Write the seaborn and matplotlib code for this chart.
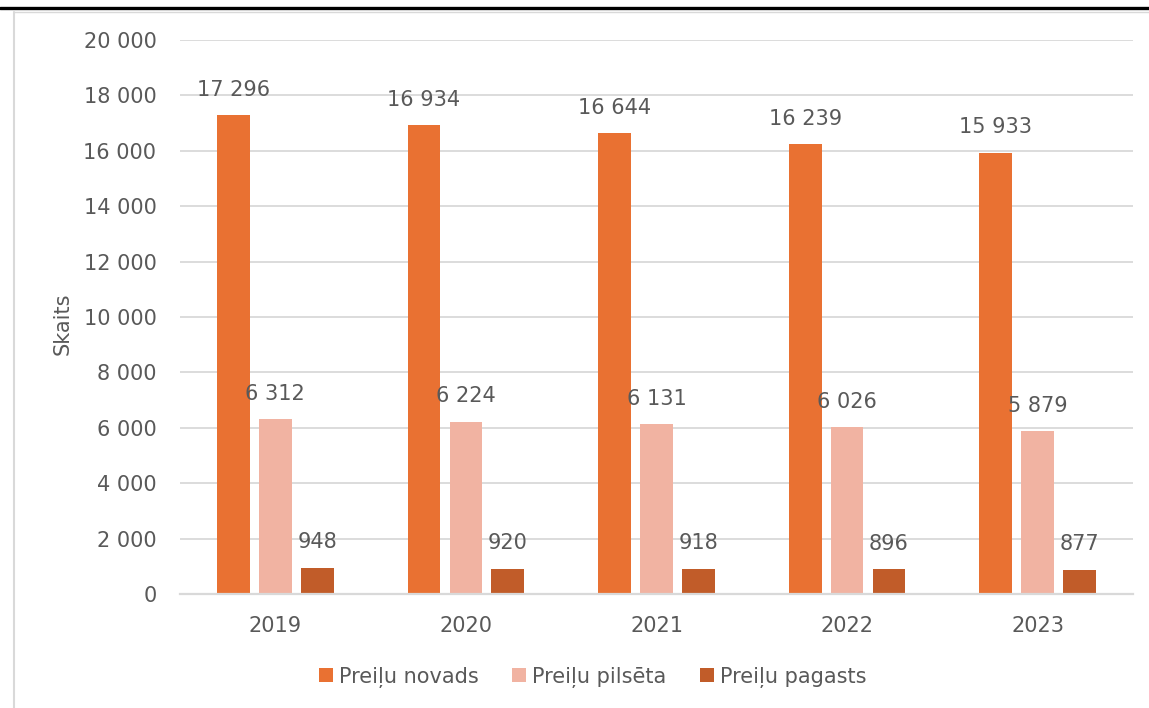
import matplotlib
matplotlib.use("Agg")
import matplotlib.pyplot as plt
from matplotlib.lines import Line2D
from matplotlib.ticker import FuncFormatter, MultipleLocator
import seaborn as sns
import pandas as pd

# Population data by year
years = ["2019", "2020", "2021", "2022", "2023"]
series_names = ["Preiļu novads", "Preiļu pilsēta", "Preiļu pagasts"]
novads = [17296, 16934, 16644, 16239, 15933]
pilseta = [6312, 6224, 6131, 6026, 5879]
pagasts = [948, 920, 918, 896, 877]
y_label = "Skaits"

colors = ["#E97132", "#F1B3A2", "#C15C29"]
text_color = "#595959"
grid_color = "#D9D9D9"
FS = 15

rows = []
for name, vals in zip(series_names, [novads, pilseta, pagasts]):
    for yr, v in zip(years, vals):
        rows.append({"Gads": yr, "Teritorija": name, "Skaits": v})
df = pd.DataFrame(rows)

sns.set_theme(style="white")
plt.rcParams["font.family"] = ["DejaVu Sans"]

W, H = 1149, 708
fig = plt.figure(figsize=(W / 100, H / 100), dpi=100)
ax = fig.add_axes([180 / W, 1 - 594 / H, (1133 - 180) / W, (594 - 40) / H])

sns.barplot(data=df, x="Gads", y="Skaits", hue="Teritorija", order=years,
            hue_order=series_names, palette=colors, width=0.66, gap=0.22,
            saturation=1, linewidth=0, ax=ax, legend=True)

fmt = lambda v: f"{int(round(v)):,}".replace(",", " ")
for cont in ax.containers:
    ax.bar_label(cont, labels=[fmt(b.get_height()) for b in cont],
                 padding=11, fontsize=FS, color=text_color)

ax.set_ylim(0, 20000)
ax.yaxis.set_major_locator(MultipleLocator(2000))
ax.yaxis.set_major_formatter(FuncFormatter(lambda v, p: fmt(v)))
ax.grid(axis="y", color=grid_color, linewidth=1.3)
ax.set_axisbelow(True)
for s in ["top", "right", "left"]:
    ax.spines[s].set_visible(False)
ax.spines["bottom"].set_color(grid_color)
ax.spines["bottom"].set_linewidth(1.6)
ax.tick_params(axis="y", length=0, pad=17, labelsize=FS, labelcolor=text_color)
ax.tick_params(axis="x", length=0, pad=16, labelsize=FS, labelcolor=text_color)
ax.set_xlabel("")
ax.set_ylabel(y_label, fontsize=FS, color=text_color)
ax.yaxis.set_label_coords((73 - 180) / (1133 - 180), (594 - 324) / (594 - 40))

handles, labels = ax.get_legend_handles_labels()
ax.legend_.remove()
fig.legend(handles, labels, loc="center", bbox_to_anchor=(592.5 / W, 1 - 677 / H),
           ncol=3, frameon=False, fontsize=FS, labelcolor=text_color,
           handlelength=0.67, handleheight=0.67, handletextpad=0.3,
           columnspacing=1.6)

# page rule and chart frame
fig.add_artist(Line2D([0, 1], [1 - 7.5 / H, 1 - 7.5 / H], color="black", linewidth=2.4,
                      transform=fig.transFigure))
fig.add_artist(Line2D([14 / W, 1], [1 - 11.5 / H, 1 - 11.5 / H], color=grid_color,
                      linewidth=1.0, transform=fig.transFigure))
fig.add_artist(Line2D([14 / W, 14 / W], [0, 1 - 11.5 / H], color=grid_color,
                      linewidth=1.5, transform=fig.transFigure))

fig.savefig("out.png", dpi=100)
